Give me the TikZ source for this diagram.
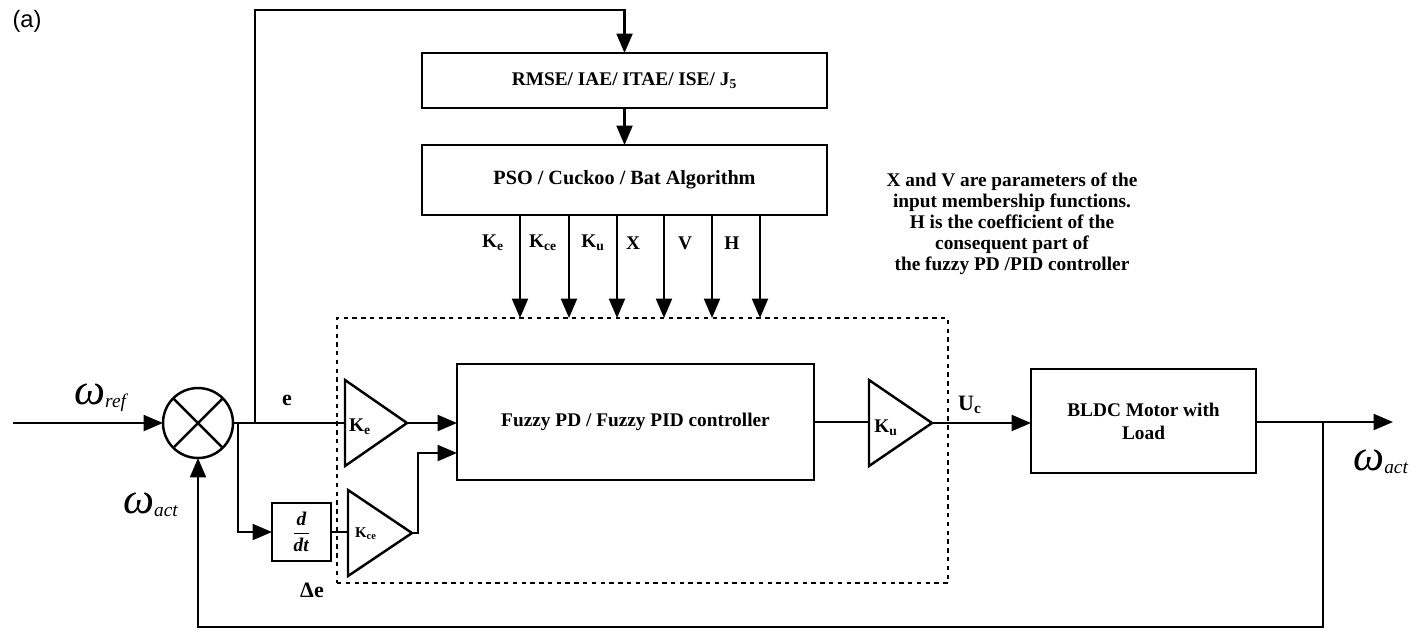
\documentclass[tikz,border=0pt]{standalone}
\usepackage{amsmath}
\usepackage{fontspec}
\setmainfont{Liberation Serif}
\newfontfamily\arialfont{Liberation Sans}
\usetikzlibrary{arrows.meta}

\newcommand{\wsub}[1]{\raisebox{-0.06em}{\fontsize{11}{11}\selectfont #1}}

\begin{document}
\begin{tikzpicture}[
        x=0.02cm, y=-0.02cm,
        line width=1.4pt,
        >={Triangle[length=11pt,width=9pt]},
        block/.style={draw, rectangle, inner sep=0pt, outer sep=0pt, align=center,
              font=\bfseries\fontsize{11}{13}\selectfont},
        gain/.style={inner sep=0pt, font=\bfseries\fontsize{11}{13}\selectfont},
        sig/.style={inner sep=0pt, font=\bfseries\fontsize{12.5}{14}\selectfont},
        omega/.style={inner sep=0pt, anchor=west, font=\itshape\fontsize{25}{25}\selectfont},
        ctrlbox/.style={draw, line width=1.2pt, dash pattern=on 2.5pt off 2.5pt,
              inner sep=0pt, outer sep=0pt},
    ]
    \useasboundingbox (0,0) rectangle (1415,630);
    \node[font=\arialfont\fontsize{13.5}{15}\selectfont] (tag) at (27,21) {(a)};

    % blocks
    \node[ctrlbox, minimum width=12.22cm, minimum height=5.3cm] (ctrl) at (642.5,450.5) {};
    \node[block, minimum width=8.1cm, minimum height=1.1cm] (rmse) at (624.5,80.5) {RMSE/ IAE/ ITAE/ ISE/ J\textsubscript{5}};
    \node[block, minimum width=8.1cm, minimum height=1.4cm, font=\bfseries\fontsize{11.5}{13}\selectfont] (pso) at (624.5,180) {PSO / Cuckoo / Bat Algorithm};
    \node[block, minimum width=7.14cm, minimum height=2.32cm] (fuzzy) at (635.5,422) {Fuzzy PD / Fuzzy PID controller};
    \node[block, minimum width=4.5cm, minimum height=2.08cm] (bldc) at (1143.5,421) {BLDC Motor with\\Load};
    \node[block, minimum width=1.18cm, minimum height=1.16cm] (ddt) at (301.5,532) {$\dfrac{\textbf{\textit{d}}}{\textbf{\textit{dt}}}$};

    % summing junction
    \node[draw, circle, minimum size=1.4cm, inner sep=0pt, outer sep=0pt] (sum) at (198,423) {};
    \draw (sum.north west) -- (sum.south east);
    \draw (sum.north east) -- (sum.south west);

    % K_e
    \draw (345,380) -- (407,423) -- (345,466) -- cycle;
    \coordinate (ke-in) at (345,423);
    \coordinate (ke-out) at (407,423);
    \node[gain] (ke) at (360,427) {K\textsubscript{e}};
    % K_ce
    \draw (348,490) -- (412,533) -- (348,576) -- cycle;
    \coordinate (kce-in) at (348,532);
    \coordinate (kce-out) at (412,533);
    \node[gain, font=\bfseries\fontsize{8.5}{10}\selectfont] (kce) at (366,534) {K\textsubscript{ce}};
    % K_u
    \draw (869,380) -- (932,423) -- (869,466) -- cycle;
    \coordinate (ku-in) at (869,422);
    \coordinate (ku-out) at (932,423);
    \node[gain] (ku) at (886,428) {K\textsubscript{u}};

    % signals
    \coordinate (in) at (13,423);
    \coordinate (e-up) at (255,423);
    \coordinate (e-dn) at (238,423);
    \coordinate (top) at (624.5,10);
    \coordinate (fz-in2) at (457,453);
    \coordinate (tap) at (1323,422);
    \coordinate (out) at (1393,422);
    \coordinate (bot) at (1323,627);

    \draw[->] (in) -- (sum.west);
    \draw (sum.east) -- (ke-in);
    \draw[->] (e-up) |- (top) -- (rmse.north);
    \draw[->] (rmse.south) -- (pso.north);
    \draw[->] (e-dn) |- (ddt.west);
    \draw (ddt.east) -- (kce-in);
    \draw[->] (ke-out) -- (ke-out -| fuzzy.west);
    \draw[->] (kce-out) -- ++(6,0) |- (fz-in2);
    \draw (fuzzy.east) -- (ku-in);
    \draw[->] (ku-out) -- (ku-out -| bldc.west);
    \draw[->] (bldc.east |- out) -- (out);
    \draw[->] (tap) -- (bot) -| (sum.south);

    % tuned parameters
    \foreach \x/\lx/\t [count=\i] in {520/493/K\textsubscript{e}, 569/543/K\textsubscript{ce},
            617/593/K\textsubscript{u}, 664/633/X, 712/685/V, 760/732/H}{
        \draw[->] (pso.south -| \x,0) -- (ctrl.north -| \x,0);
        \node[gain] (par\i) at (\lx,243) {\t};
    }

    % labels
    \node[omega] (wref) at (73,398) {ω\wsub{ref}};
    \node[omega] (wact) at (122,505) {ω\wsub{act}};
    \node[omega] (wout) at (1352,462) {ω\wsub{act}};
    \node[sig] (esig) at (287,400) {e};
    \node[sig] (de) at (312,590) {Δe};
    \node[sig] (uc) at (970,405) {U\textsubscript{c}};
    \node[gain, align=center, font=\bfseries\fontsize{11}{11.9}\selectfont] (note) at (1012,224)
        {X and V are parameters of the\\input membership functions.\\H is the coefficient of the\\consequent part of\\the fuzzy PD /PID controller};
\end{tikzpicture}
\end{document}
